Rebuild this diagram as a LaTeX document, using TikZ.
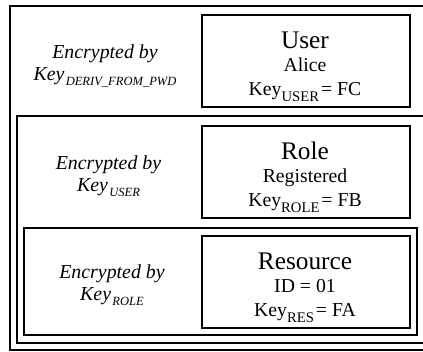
\documentclass[tikz,border=0pt]{standalone}
\usepackage{fontspec}
\setmainfont{Liberation Serif}
\newcommand{\titlefont}{\fontsize{19}{20}\selectfont}
\newcommand{\bodyfont}{\fontsize{14.8}{16}\selectfont}
\newcommand{\subfont}{\fontsize{11}{12}\selectfont}
\newcommand{\lblfont}{\fontsize{14.9}{16}\selectfont\itshape}
\newcommand{\lblsubfont}{\fontsize{9.4}{10}\selectfont\itshape}
\newcommand{\keysub}[1]{Key\raisebox{-4.7pt}{\subfont #1}\hspace{1.5pt}}
\newcommand{\lblkey}[1]{Key\hspace{1pt}\raisebox{-4.3pt}{\lblsubfont #1}}
\begin{document}
\begin{tikzpicture}[x=0.75pt,y=-0.75pt,
  frame/.style={draw=black,line width=1.4pt,rectangle,inner sep=0pt,anchor=north west},
  itembox/.style={draw=black,line width=1.6pt,rectangle,inner sep=0pt,anchor=north west,
    minimum width=208*0.75pt,minimum height=92*0.75pt},
  txt/.style={inner sep=0pt,anchor=base}]
\useasboundingbox (0,0) rectangle (423,351);
\clip (0,0) rectangle (423,351);
\fill[white] (0,0) rectangle (423,351);

% nested encryption layers
\node[frame,minimum width=423*0.75pt,minimum height=344*0.75pt] (outer) at (9,5) {};
\node[frame,minimum width=410*0.75pt,minimum height=227*0.75pt] (rolelayer) at (16,115) {};
\node[frame,minimum width=393*0.75pt,minimum height=107*0.75pt] (reslayer) at (23,227) {};

% protected objects
\node[itembox] (user) at (201,14) {};
\node[itembox] (role) at (201,125) {};
\node[itembox] (res) at (201,235) {};

% user object
\node[txt] (usertitle) at (305,48) {\titlefont User};
\node[txt] (username) at (305,71.3) {\bodyfont Alice};
\node[txt] (userkey) at (305,95.7) {\bodyfont \keysub{USER}= FC};

% role object
\node[txt] (roletitle) at (305,159) {\titlefont Role};
\node[txt] (rolename) at (305,182.3) {\bodyfont Registered};
\node[txt] (rolekey) at (305,206.7) {\bodyfont \keysub{ROLE}= FB};

% resource object
\node[txt] (restitle) at (305,269) {\titlefont Resource};
\node[txt] (resid) at (305,292.3) {\bodyfont ID = 01};
\node[txt] (reskey) at (305,316.7) {\bodyfont \keysub{RES}= FA};

% layer keys
\node[txt] (enc1) at (105,58) {\lblfont Encrypted by};
\node[txt] (key1) at (105,80) {\lblfont \lblkey{DERIV\_FROM\_PWD}};
\node[txt] (enc2) at (108.5,169) {\lblfont Encrypted by};
\node[txt] (key2) at (108.5,191) {\lblfont \lblkey{USER}};
\node[txt] (enc3) at (112,278) {\lblfont Encrypted by};
\node[txt] (key3) at (112,300) {\lblfont \lblkey{ROLE}};
\end{tikzpicture}
\end{document}
